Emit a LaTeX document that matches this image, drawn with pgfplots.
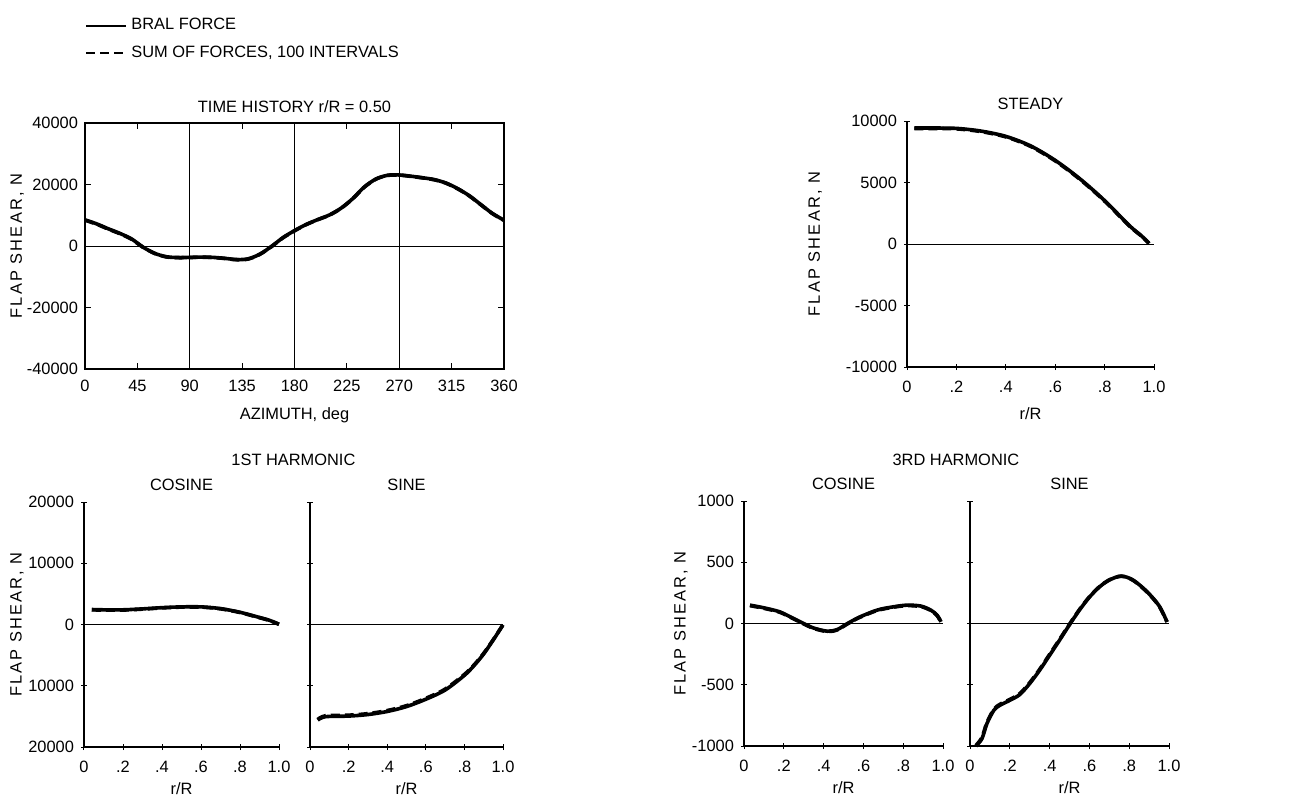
\documentclass[border=0pt]{standalone}
\usepackage{fontspec}
\setmainfont{Liberation Sans}
\newfontfamily\spacedfont[LetterSpace=13]{Liberation Sans}
\usepackage{pgfplots}
\pgfplotsset{compat=1.18}

\newcommand{\lblfont}{\fontsize{8.2}{9.8}\selectfont}
\newcommand{\ylfont}{\spacedfont\fontsize{8.2}{9.8}\selectfont}

\pgfplotsset{
  panel/.style={
    scale only axis, anchor=north west, clip=false,
    scaled ticks=false, every axis title shift=0pt,
    tick align=inside, major tick length=3pt,
    every tick/.style={black, line width=0.5pt},
    tick label style={font=\lblfont},
    xticklabel style={yshift=-2pt},
    label style={font=\lblfont},
    ylabel style={font=\ylfont},
    title style={font=\lblfont},
  },
  rpanel/.style={
    panel, axis lines=left, axis line style={-, black, line width=0.7pt},
    xmin=0, xmax=1,
    xtick={0,0.2,0.4,0.6,0.8,1}, xticklabels={0,.2,.4,.6,.8,1.0},
    xlabel={r/R},
  },
  bral/.style={black, line width=1.8pt, smooth},
  sumf/.style={black, line width=1.8pt, smooth, dash pattern=on 4.5pt off 2.5pt},
  zeroline/.style={black, line width=0.5pt, forget plot},
}

\begin{document}
\begin{tikzpicture}[font=\lblfont]
\useasboundingbox (0pt,0pt) rectangle (655.5pt,-400pt);

% ---------------- time history ----------------
\begin{axis}[panel, at={(42.5pt,-61.5pt)}, width=209.5pt, height=123pt,
  axis line style={black, line width=0.7pt},
  xmin=0, xmax=360, ymin=-40000, ymax=40000,
  xtick={0,45,...,360}, xticklabels={0,45,90,135,180,225,270,315,360},
  ytick={-40000,-20000,0,20000,40000},
  yticklabels={-40000,-20000,0,20000,40000},
  extra x ticks={90,180,270}, extra x tick labels={},
  extra x tick style={grid=major, major grid style={black, line width=0.7pt}},
  title={TIME HISTORY r/R = 0.50},
  title style={at={(axis description cs:0.5,1.065)}, anchor=center},
  xlabel={AZIMUTH, deg},
  xlabel style={at={(axis description cs:0.5,-0.19)}, anchor=center},
  ylabel={FLAP SHEAR, N},
  ylabel style={at={(axis description cs:-0.162,0.5)}, anchor=center},
  legend style={at={(axis description cs:0,1.443)}, anchor=north west,
    draw=none, fill=none, inner sep=0pt, row sep=2.5pt, font=\lblfont,
    /tikz/every even column/.append style={column sep=4pt}},
  legend cell align=left,
  legend image code/.code={\draw[#1, line width=1pt] (0pt,0pt) -- (20pt,0pt);},
]
\addplot[zeroline] coordinates {(0,0) (360,0)};
\addplot[bral] coordinates {
(0,8500) (10,7200) (20,5600) (30,4100) (40,2300) (50,-400) (60,-2400)
(70,-3500) (80,-3750) (90,-3700) (100,-3600) (110,-3700) (120,-4000)
(130,-4400) (140,-4200) (150,-2700) (160,-200) (170,2700) (180,5000)
(190,7000) (200,8600) (210,10100) (220,12300) (230,15400) (240,19200)
(250,21800) (260,23000) (270,23100) (280,22700) (290,22200) (300,21600)
(310,20500) (320,18700) (330,16400) (340,13500) (350,10600) (360,8400)};
\addlegendentry{BRAL FORCE}
\addplot[sumf] coordinates {
(0,8400) (10,7100) (20,5500) (30,4000) (40,2200) (50,-450) (60,-2450)
(70,-3550) (80,-3800) (90,-3750) (100,-3650) (110,-3750) (120,-4050)
(130,-4450) (140,-4250) (150,-2750) (160,-250) (170,2650) (180,4950)
(190,6950) (200,8550) (210,10050) (220,12250) (230,15350) (240,19150)
(250,21750) (260,22950) (270,23050) (280,22650) (290,22150) (300,21550)
(310,20450) (320,18650) (330,16350) (340,13450) (350,10550) (360,8350)};
\addlegendentry{SUM OF FORCES, 100 INTERVALS}
\end{axis}

% ---------------- steady ----------------
\begin{axis}[rpanel, at={(453.5pt,-60.5pt)}, width=123.5pt, height=123pt,
  ymin=-10000, ymax=10000,
  ytick={-10000,-5000,0,5000,10000},
  yticklabels={-10000,-5000,0,5000,10000},
  title={STEADY},
  title style={at={(axis description cs:0.5,1.069)}, anchor=center},
  xlabel style={at={(axis description cs:0.5,-0.19)}, anchor=center},
  ylabel={FLAP SHEAR, N},
  ylabel style={at={(axis description cs:-0.372,0.5)}, anchor=center},
]
\addplot[zeroline] coordinates {(0,0) (1,0)};
\addplot[bral] coordinates {
(0.03,9430) (0.1,9430) (0.2,9400) (0.3,9180) (0.4,8750) (0.5,7980)
(0.6,6800) (0.7,5300) (0.8,3530) (0.9,1500) (0.95,650) (0.98,50)};
\addplot[sumf] coordinates {
(0.03,9380) (0.1,9390) (0.2,9360) (0.3,9140) (0.4,8710) (0.5,7940)
(0.6,6760) (0.7,5260) (0.8,3490) (0.9,1470) (0.95,630) (0.98,40)};
\end{axis}

% ---------------- 1st harmonic, cosine ----------------
\begin{axis}[rpanel, at={(42pt,-251pt)}, width=97.5pt, height=122.5pt,
  ymin=-20000, ymax=20000,
  ytick={-20000,-10000,0,10000,20000},
  yticklabels={20000,10000,0,10000,20000},
  title={COSINE},
  title style={at={(axis description cs:0.5,1.069)}, anchor=center},
  xlabel style={at={(axis description cs:0.5,-0.17)}, anchor=center},
  ylabel={FLAP SHEAR, N},
  ylabel style={at={(axis description cs:-0.344,0.5)}, anchor=center},
]
\node[font=\lblfont] at (axis description cs:1.074,1.171) {1ST HARMONIC};
\addplot[zeroline] coordinates {(0,0) (1,0)};
\addplot[bral] coordinates {
(0.04,2450) (0.1,2400) (0.2,2400) (0.3,2550) (0.4,2750) (0.5,2880)
(0.6,2880) (0.7,2600) (0.8,2000) (0.9,1150) (0.95,700) (1.0,50)};
\addplot[sumf] coordinates {
(0.04,2400) (0.1,2350) (0.2,2360) (0.3,2510) (0.4,2710) (0.5,2840)
(0.6,2840) (0.7,2560) (0.8,1960) (0.9,1110) (0.95,670) (1.0,30)};
\end{axis}

% ---------------- 1st harmonic, sine ----------------
\begin{axis}[rpanel, at={(155pt,-251pt)}, width=96.5pt, height=122.5pt,
  ymin=-20000, ymax=20000,
  ytick={-20000,-10000,0,10000,20000}, yticklabels={},
  title={SINE},
  title style={at={(axis description cs:0.5,1.069)}, anchor=center},
  xlabel style={at={(axis description cs:0.5,-0.17)}, anchor=center},
]
\addplot[zeroline] coordinates {(0,0) (1,0)};
\addplot[bral] coordinates {
(0.04,-15600) (0.08,-15050) (0.2,-14950) (0.3,-14700) (0.4,-14200)
(0.5,-13400) (0.6,-12200) (0.7,-10700) (0.8,-8300) (0.85,-6700)
(0.9,-4800) (0.95,-2500) (1.0,-50)};
\addplot[sumf] coordinates {
(0.04,-15500) (0.08,-14900) (0.2,-14800) (0.3,-14550) (0.4,-14050)
(0.5,-13250) (0.6,-12050) (0.7,-10550) (0.8,-8150) (0.85,-6600)
(0.9,-4700) (0.95,-2450) (1.0,-50)};
\end{axis}

% ---------------- 3rd harmonic, cosine ----------------
\begin{axis}[rpanel, at={(372pt,-250.5pt)}, width=99.5pt, height=122.5pt,
  ymin=-1000, ymax=1000,
  ytick={-1000,-500,0,500,1000},
  yticklabels={-1000,-500,0,500,1000},
  title={COSINE},
  title style={at={(axis description cs:0.5,1.069)}, anchor=center},
  xlabel style={at={(axis description cs:0.5,-0.17)}, anchor=center},
  ylabel={FLAP SHEAR, N},
  ylabel style={at={(axis description cs:-0.317,0.5)}, anchor=center},
]
\node[font=\lblfont] at (axis description cs:1.065,1.167) {3RD HARMONIC};
\addplot[zeroline] coordinates {(0,0) (1,0)};
\addplot[bral] coordinates {
(0.03,150) (0.1,128) (0.18,95) (0.25,40) (0.3,0) (0.35,-37) (0.42,-63)
(0.47,-48) (0.52,0) (0.58,52) (0.67,110) (0.75,136) (0.82,150) (0.89,142)
(0.94,108) (0.97,68) (0.99,14)};
\addplot[sumf] coordinates {
(0.03,146) (0.1,124) (0.18,92) (0.25,37) (0.3,-3) (0.35,-40) (0.42,-66)
(0.47,-51) (0.52,-3) (0.58,49) (0.67,107) (0.75,133) (0.82,146) (0.89,138)
(0.94,105) (0.97,65) (0.99,12)};
\end{axis}

% ---------------- 3rd harmonic, sine ----------------
\begin{axis}[rpanel, at={(485pt,-250.5pt)}, width=99.5pt, height=122.5pt,
  ymin=-1000, ymax=1000,
  ytick={-1000,-500,0,500,1000}, yticklabels={},
  title={SINE},
  title style={at={(axis description cs:0.5,1.069)}, anchor=center},
  xlabel style={at={(axis description cs:0.5,-0.17)}, anchor=center},
]
\addplot[zeroline] coordinates {(0,0) (1,0)};
\addplot[bral] coordinates {
(0.03,-1000) (0.06,-940) (0.085,-817) (0.12,-708) (0.15,-668) (0.2,-627)
(0.25,-580) (0.3,-490) (0.35,-381) (0.4,-259) (0.45,-136) (0.5,-10)
(0.55,110) (0.6,215) (0.65,298) (0.7,355) (0.76,387) (0.82,354)
(0.89,259) (0.95,145) (0.99,14)};
\addplot[sumf] coordinates {
(0.03,-995) (0.06,-930) (0.085,-808) (0.12,-700) (0.15,-660) (0.2,-620)
(0.25,-572) (0.3,-483) (0.35,-374) (0.4,-252) (0.45,-130) (0.5,-5)
(0.55,114) (0.6,218) (0.65,300) (0.7,356) (0.76,386) (0.82,352)
(0.89,256) (0.95,142) (0.99,12)};
\end{axis}
\end{tikzpicture}
\end{document}
